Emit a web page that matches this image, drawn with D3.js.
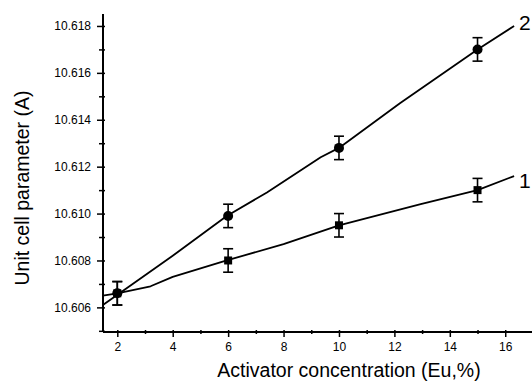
<!DOCTYPE html>
<html>
<head>
<meta charset="utf-8">
<script src="https://cdn.jsdelivr.net/npm/d3@7"></script>
<style>
  html, body { margin: 0; padding: 0; background: #fff; }
  svg { display: block; font-family: Arial, "Liberation Sans", sans-serif; }
</style>
</head>
<body>
<div id="chart"></div>
<script>
// measured points (Eu %, unit cell parameter)
const concentration = [2, 6, 10, 15];
const series2 = [10.6066, 10.6099, 10.6128, 10.6170];
const series1 = [10.6066, 10.6080, 10.6095, 10.6110];
const errorBar = 0.0005;

// fitted curves
const fit2X = [1.48, 4.0, 5.95, 7.4, 9.34, 10.0, 12.2, 15.0, 16.32];
const fit2Y = [10.6061, 10.6082, 10.6099, 10.6109, 10.6124, 10.6128, 10.6147, 10.6170, 10.6180];
const fit1X = [1.48, 2.0, 3.2, 4.0, 5.95, 8.0, 10.0, 12.95, 15.0, 16.32];
const fit1Y = [10.6065, 10.6066, 10.6069, 10.6073, 10.6080, 10.6087, 10.6095, 10.6104, 10.6110, 10.6116];

const xMajor = [2, 4, 6, 8, 10, 12, 14, 16];
const xMinor = [3, 5, 7, 9, 11, 13, 15, 17];
const yMajor = [10.606, 10.608, 10.610, 10.612, 10.614, 10.616, 10.618];
const yMinor = [10.605, 10.607, 10.609, 10.611, 10.613, 10.615, 10.617];

const width = 532, height = 383;
const plotLeft = 103, plotRight = 532, plotTop = 14, plotBottom = 332;

const svg = d3.select('#chart').append('svg')
  .attr('width', width)
  .attr('height', height);

const x = d3.scaleLinear().domain([1.484, 16.966]).range([plotLeft, plotRight]);
const y = d3.scaleLinear().domain([10.60495, 10.61851]).range([plotBottom, plotTop]);

// x axis
const gx = svg.append('g').attr('transform', `translate(0,${plotBottom})`);
gx.call(d3.axisBottom(x).tickValues(xMajor).tickSize(5).tickSizeOuter(0).tickPadding(5).tickFormat(d3.format('d')));
gx.append('g').call(d3.axisBottom(x).tickValues(xMinor).tickSize(2).tickSizeOuter(0).tickFormat(''));
gx.selectAll('.tick line').attr('y1', -2);
gx.selectAll('.domain').attr('d', `M${plotLeft},0H${plotRight}`);

// y axis
const gy = svg.append('g').attr('transform', `translate(${plotLeft},0)`);
gy.call(d3.axisLeft(y).tickValues(yMajor).tickSize(6).tickSizeOuter(0).tickPadding(6).tickFormat(d3.format('.3f')));
gy.append('g').call(d3.axisLeft(y).tickValues(yMinor).tickSize(4).tickSizeOuter(0).tickFormat(''));
gy.selectAll('.tick line').attr('x1', 2);
gy.selectAll('.domain').attr('d', `M0,${plotTop}V${plotBottom}`);

svg.selectAll('.domain').attr('stroke', '#000').attr('stroke-width', 2);
svg.selectAll('.tick line').attr('stroke', '#000').attr('stroke-width', 1.5);
svg.selectAll('.tick text').attr('font-size', 12).attr('fill', '#000')
  .attr('font-family', 'Arial, "Liberation Sans", sans-serif');

// fitted lines
const line = d3.line().x(d => x(d[0])).y(d => y(d[1]));
[[fit2X, fit2Y], [fit1X, fit1Y]].forEach(([xs, ys]) => {
  svg.append('path')
    .attr('d', line(xs.map((v, i) => [v, ys[i]])))
    .attr('fill', 'none')
    .attr('stroke', '#000')
    .attr('stroke-width', 1.8)
    .attr('stroke-linejoin', 'round');
});

// error bars
function errorBars(values) {
  const g = svg.append('g').attr('stroke', '#000').attr('stroke-width', 1.6);
  concentration.forEach((c, i) => {
    const cx = x(c), y0 = y(values[i] - errorBar), y1 = y(values[i] + errorBar);
    g.append('line').attr('x1', cx).attr('x2', cx).attr('y1', y0).attr('y2', y1);
    g.append('line').attr('x1', cx - 5).attr('x2', cx + 5).attr('y1', y0).attr('y2', y0);
    g.append('line').attr('x1', cx - 5).attr('x2', cx + 5).attr('y1', y1).attr('y2', y1);
  });
}
errorBars(series1);
errorBars(series2);

// markers
svg.append('g').selectAll('rect')
  .data(concentration)
  .join('rect')
  .attr('x', (d) => x(d) - 4)
  .attr('y', (d, i) => y(series1[i]) - 4)
  .attr('width', 8)
  .attr('height', 8)
  .attr('fill', '#000');

svg.append('g').selectAll('circle')
  .data(concentration)
  .join('circle')
  .attr('cx', (d) => x(d))
  .attr('cy', (d, i) => y(series2[i]))
  .attr('r', 5)
  .attr('fill', '#000');

// series labels
svg.append('text').attr('x', 519).attr('y', 30).attr('font-size', 21).text('2');
svg.append('text').attr('x', 519).attr('y', 188).attr('font-size', 21).text('1');

// axis titles
svg.append('text')
  .attr('x', 349).attr('y', 377)
  .attr('text-anchor', 'middle')
  .attr('font-size', 19.5)
  .text('Activator concentration (Eu,%)');

svg.append('text')
  .attr('transform', 'translate(29,188) rotate(-90)')
  .attr('text-anchor', 'middle')
  .attr('font-size', 19.5)
  .text('Unit cell parameter (A)');
</script>
</body>
</html>
